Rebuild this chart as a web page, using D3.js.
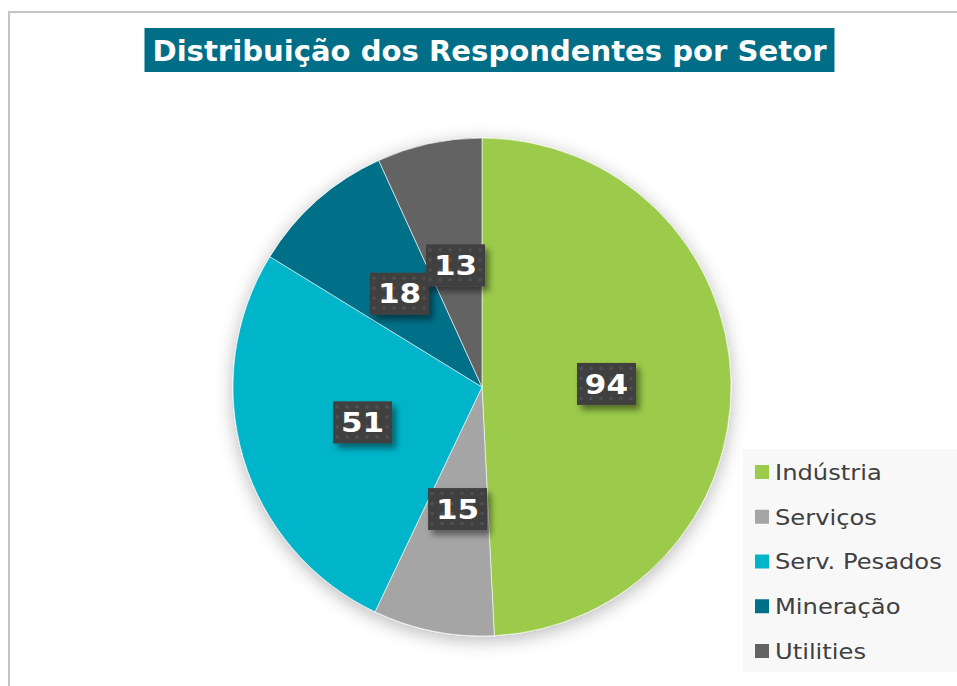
<!DOCTYPE html>
<html>
<head>
<meta charset="utf-8">
<script src="https://cdn.jsdelivr.net/npm/d3@7"></script>
<style>
  body { margin: 0; background: #fff; }
  svg { display: block; }
</style>
</head>
<body>
<svg width="957" height="686"></svg>
<script>
// data
const sectors = ['Indústria', 'Serviços', 'Serv. Pesados', 'Mineração', 'Utilities']
const counts = [94, 15, 51, 18, 13]
const colors = ['#9ccb4b', '#a5a5a5', '#00b4ca', '#006f88', '#636363']
const title = 'Distribuição dos Respondentes por Setor'

const svg = d3.select('svg')
const width = +svg.attr('width')
const height = +svg.attr('height')

const defs = svg.append('defs')

// soft shadow around the pie
const pieShadow = defs.append('filter')
    .attr('id', 'pieShadow')
    .attr('x', '-20%').attr('y', '-20%')
    .attr('width', '140%').attr('height', '140%')
pieShadow.append('feDropShadow')
    .attr('dx', 0).attr('dy', 4)
    .attr('stdDeviation', 9)
    .attr('flood-color', '#000')
    .attr('flood-opacity', 0.28)

// shadow for the label boxes
const boxShadow = defs.append('filter')
    .attr('id', 'boxShadow')
    .attr('x', '-30%').attr('y', '-30%')
    .attr('width', '160%').attr('height', '160%')
boxShadow.append('feDropShadow')
    .attr('dx', 4).attr('dy', 5)
    .attr('stdDeviation', 3)
    .attr('flood-color', '#000')
    .attr('flood-opacity', 0.45)

// dotted texture on label boxes
const dots = defs.append('pattern')
    .attr('id', 'dots')
    .attr('patternUnits', 'userSpaceOnUse')
    .attr('width', 10).attr('height', 10)
dots.append('rect').attr('width', 10).attr('height', 10).attr('fill', '#404040')
dots.append('rect').attr('x', 3).attr('y', 3).attr('width', 3).attr('height', 3).attr('fill', '#515151')

// chart border
svg.append('rect')
    .attr('x', 9).attr('y', 12)
    .attr('width', width + 20).attr('height', height + 20)
    .attr('fill', '#fff')
    .attr('stroke', '#c4c4c4')
    .attr('stroke-width', 2)

// title (box sized to the text)
const titleX = 489.5, titleW = 674
svg.append('rect')
    .attr('x', titleX - titleW / 2 - 8).attr('y', 28)
    .attr('width', titleW + 16).attr('height', 44)
    .attr('fill', '#006e87')
svg.append('text')
    .attr('x', titleX - titleW / 2).attr('y', 61)
    .attr('font-family', 'DejaVu Sans, Verdana, sans-serif')
    .attr('font-weight', 'bold')
    .attr('font-size', 28)
    .attr('textLength', titleW)
    .attr('lengthAdjust', 'spacingAndGlyphs')
    .attr('fill', '#fff')
    .text(title)

// legend background
svg.append('rect')
    .attr('x', 743).attr('y', 449)
    .attr('width', width - 743).attr('height', 223)
    .attr('fill', '#f8f8f8')

// pie
const cx = 482, cy = 387, radius = 249

const pie = d3.pie().sort(null).value(d => d)
const arcs = pie(counts)
const arc = d3.arc().innerRadius(0).outerRadius(radius)
const labelArc = d3.arc().innerRadius(radius * 0.5).outerRadius(radius * 0.5)

const g = svg.append('g')
    .attr('transform', `translate(${cx}, ${cy})`)

g.append('g')
    .attr('filter', 'url(#pieShadow)')
    .selectAll('path')
    .data(arcs)
    .join('path')
        .attr('d', arc)
        .attr('fill', (d, i) => colors[i])
        .attr('stroke', '#fff')
        .attr('stroke-width', 0.6)

// data labels
const boxW = 59, boxH = 42
const labels = g.selectAll('g.label')
    .data(arcs)
    .join('g')
        .attr('class', 'label')
        .attr('transform', d => `translate(${labelArc.centroid(d)})`)

labels.append('rect')
    .attr('x', -boxW / 2).attr('y', -boxH / 2)
    .attr('width', boxW).attr('height', boxH)
    .attr('fill', 'url(#dots)')
    .attr('filter', 'url(#boxShadow)')

labels.append('text')
    .attr('text-anchor', 'middle')
    .attr('transform', 'scale(1.15, 1)')
    .attr('dy', '0.36em')
    .attr('font-family', 'DejaVu Sans, Verdana, sans-serif')
    .attr('font-weight', 'bold')
    .attr('font-size', 27)
    .attr('fill', '#fff')
    .text(d => d.data)

// legend
const legendY = d3.scalePoint()
    .domain(sectors)
    .range([472, 651])

const legend = svg.append('g')
    .selectAll('g')
    .data(sectors)
    .join('g')
        .attr('transform', d => `translate(755, ${legendY(d)})`)

legend.append('rect')
    .attr('x', 0).attr('y', -7)
    .attr('width', 14).attr('height', 14)
    .attr('fill', (d, i) => colors[i])

legend.append('text')
    .attr('transform', 'translate(20, 0) scale(1.1, 1)')
    .attr('dy', '0.36em')
    .attr('font-family', 'DejaVu Sans, Verdana, sans-serif')
    .attr('font-size', 22)
    .attr('fill', '#404040')
    .text(d => d)
</script>
</body>
</html>
